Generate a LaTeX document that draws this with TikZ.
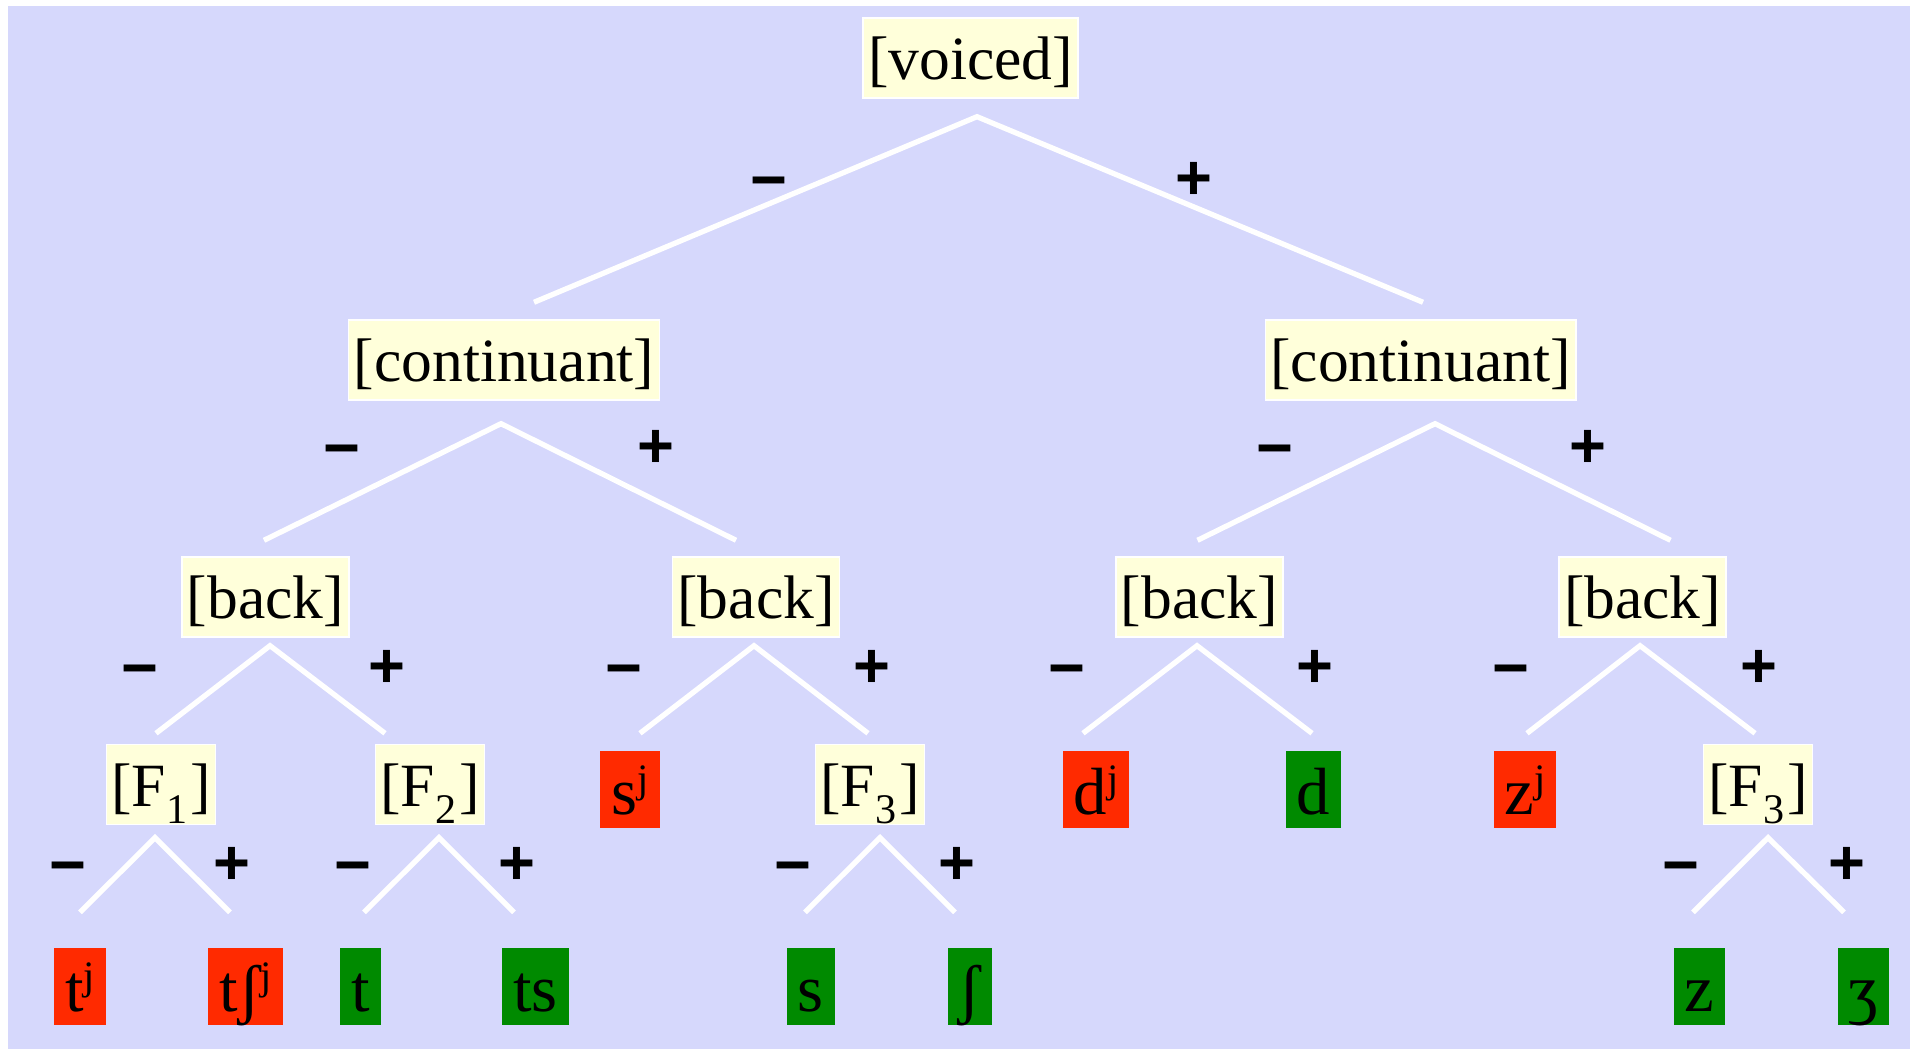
\documentclass[tikz,border=0pt]{standalone}
\usepackage{fontspec}
\setmainfont{Liberation Serif}
\newfontfamily\signfont{Liberation Sans}
\usepackage{tikz}
\definecolor{TreeBG}{HTML}{D6D8FC}
\definecolor{FeatFill}{HTML}{FFFFDA}
\definecolor{BadSeg}{HTML}{FF2A00}
\definecolor{GoodSeg}{HTML}{008A00}
\newcommand{\fsub}[1]{\raisebox{-0.17cm}{\fontsize{12}{12}\selectfont #1}\kern0.03cm}
\newcommand{\pal}{\raisebox{0.22cm}{\fontsize{11.5}{11.5}\selectfont j}}

\begin{document}
\begin{tikzpicture}
  \tikzstyle{feat}=[fill=FeatFill, draw=white, line width=0.4pt, inner xsep=0.05cm,
              inner ysep=0pt, text height=0.62cm, text depth=0.18cm,
              font=\fontsize{17.5}{21}\selectfont]
  \tikzstyle{seg}=[inner xsep=0.11cm, inner ysep=0pt, text height=0.63cm,
              text depth=0.14cm, font=\fontsize{19}{23}\selectfont]
  \tikzstyle{bad}=[seg, fill=BadSeg]
  \tikzstyle{good}=[seg, fill=GoodSeg]
  \tikzstyle{branch}=[draw=white, line width=1.5pt]
  \tikzstyle{sign}=[font=\signfont\bfseries\fontsize{18}{20}\selectfont]
  \tikzstyle{minussign}=[sign, yshift=-0.095cm]
  \tikzstyle{plussign}=[sign, yshift=-0.01cm]
  \useasboundingbox (0,0) rectangle (19.15,-10.49);
  \fill[TreeBG] (0.08,-0.06) rectangle (19.10,-10.49);
  % features
  \node[feat] (voiced) at (9.705,-0.58) {[voiced]};
  \node[feat] (contL) at (5.04,-3.60) {[continuant]};
  \node[feat] (contR) at (14.205,-3.60) {[continuant]};
  \node[feat] (backA) at (2.655,-5.97) {[back]};
  \node[feat] (backB) at (7.56,-5.97) {[back]};
  \node[feat] (backC) at (11.995,-5.97) {[back]};
  \node[feat] (backD) at (16.425,-5.97) {[back]};
  \node[feat] (fA) at (1.61,-7.845) {[F\fsub{1}]};
  \node[feat] (fB) at (4.30,-7.845) {[F\fsub{2}]};
  \node[feat] (fC) at (8.70,-7.845) {[F\fsub{3}]};
  \node[feat] (fD) at (17.58,-7.845) {[F\fsub{3}]};
  % segments
  \node[bad] (sj) at (6.30,-7.895) {s\pal};
  \node[bad] (dj) at (10.96,-7.895) {d\pal};
  \node[good] (d) at (13.135,-7.895) {d};
  \node[bad] (zj) at (15.25,-7.895) {z\pal};
  \node[bad] (tj) at (0.80,-9.865) {t\pal};
  \node[bad] (tshj) at (2.455,-9.865) {tʃ\pal};
  \node[good] (t) at (3.605,-9.865) {t};
  \node[good] (ts) at (5.355,-9.865) {ts};
  \node[good] (s) at (8.105,-9.865) {s};
  \node[good] (sh) at (9.70,-9.865) {ʃ};
  \node[good] (z) at (16.995,-9.865) {z};
  \node[good] (zh) at (18.635,-9.865) {ʒ};
  % branches
  \draw[branch] ([xshift=0.30cm,yshift=0.17cm]contL.north)
    -- ([xshift=0.065cm,yshift=-0.18cm]voiced.south)
    -- ([xshift=0.025cm,yshift=0.17cm]contR.north);
  \draw[branch] ([xshift=-0.015cm,yshift=0.16cm]backA.north)
    -- ([xshift=-0.03cm,yshift=-0.23cm]contL.south)
    -- ([xshift=-0.20cm,yshift=0.16cm]backB.north);
  \draw[branch] ([xshift=-0.02cm,yshift=0.16cm]backC.north)
    -- ([xshift=0.145cm,yshift=-0.23cm]contR.south)
    -- ([xshift=0.28cm,yshift=0.16cm]backD.north);
  \draw[branch] ([xshift=-0.05cm,yshift=0.105cm]fA.north)
    -- ([xshift=0.045cm,yshift=-0.08cm]backA.south)
    -- ([xshift=-0.45cm,yshift=0.105cm]fB.north);
  \draw[branch] ([xshift=0.10cm,yshift=0.17cm]sj.north)
    -- ([xshift=-0.02cm,yshift=-0.08cm]backB.south)
    -- ([xshift=-0.02cm,yshift=0.105cm]fC.north);
  \draw[branch] ([xshift=-0.13cm,yshift=0.17cm]dj.north)
    -- ([xshift=-0.025cm,yshift=-0.08cm]backC.south)
    -- ([xshift=-0.015cm,yshift=0.17cm]d.north);
  \draw[branch] ([xshift=0.02cm,yshift=0.17cm]zj.north)
    -- ([xshift=-0.025cm,yshift=-0.08cm]backD.south)
    -- ([xshift=-0.03cm,yshift=0.105cm]fD.north);
  \draw[branch] ([yshift=0.35cm]tj.north)
    -- ([xshift=-0.06cm,yshift=-0.125cm]fA.south)
    -- ([xshift=-0.155cm,yshift=0.35cm]tshj.north);
  \draw[branch] ([xshift=0.035cm,yshift=0.35cm]t.north)
    -- ([xshift=0.09cm,yshift=-0.125cm]fB.south)
    -- ([xshift=-0.215cm,yshift=0.35cm]ts.north);
  \draw[branch] ([xshift=-0.055cm,yshift=0.35cm]s.north)
    -- ([xshift=0.10cm,yshift=-0.125cm]fC.south)
    -- ([xshift=-0.15cm,yshift=0.35cm]sh.north);
  \draw[branch] ([xshift=-0.065cm,yshift=0.35cm]z.north)
    -- ([xshift=0.10cm,yshift=-0.125cm]fD.south)
    -- ([xshift=-0.195cm,yshift=0.35cm]zh.north);
  % signs
  \node[minussign] (voiced-m) at (7.69,-1.80) {−};
  \node[plussign] (voiced-p) at (11.94,-1.80) {+};
  \node[minussign] (contL-m) at (3.42,-4.48) {−};
  \node[plussign] (contL-p) at (6.56,-4.48) {+};
  \node[minussign] (contR-m) at (12.75,-4.48) {−};
  \node[plussign] (contR-p) at (15.88,-4.48) {+};
  \node[minussign] (backA-m) at (1.40,-6.68) {−};
  \node[plussign] (backA-p) at (3.87,-6.68) {+};
  \node[minussign] (backB-m) at (6.24,-6.68) {−};
  \node[plussign] (backB-p) at (8.72,-6.68) {+};
  \node[minussign] (backC-m) at (10.67,-6.68) {−};
  \node[plussign] (backC-p) at (13.15,-6.68) {+};
  \node[minussign] (backD-m) at (15.11,-6.68) {−};
  \node[plussign] (backD-p) at (17.59,-6.68) {+};
  \node[minussign] (fA-m) at (0.68,-8.645) {−};
  \node[plussign] (fA-p) at (2.32,-8.645) {+};
  \node[minussign] (fB-m) at (3.53,-8.645) {−};
  \node[plussign] (fB-p) at (5.17,-8.645) {+};
  \node[minussign] (fC-m) at (7.93,-8.645) {−};
  \node[plussign] (fC-p) at (9.57,-8.645) {+};
  \node[minussign] (fD-m) at (16.81,-8.645) {−};
  \node[plussign] (fD-p) at (18.47,-8.645) {+};
\end{tikzpicture}
\end{document}
